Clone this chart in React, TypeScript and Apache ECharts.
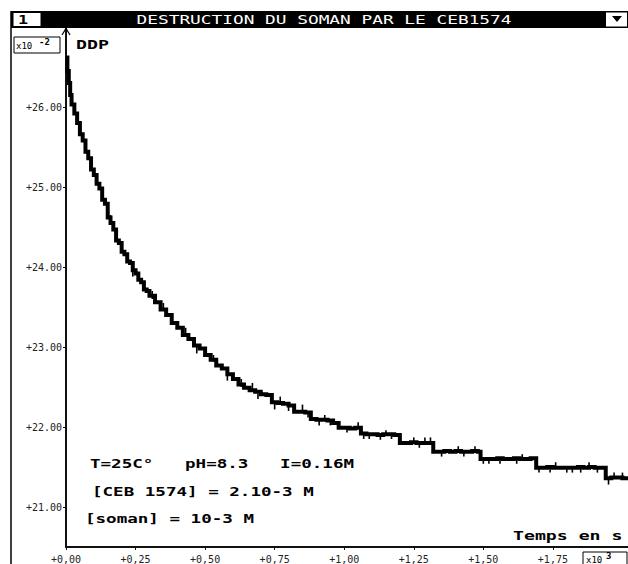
import React, { useEffect, useRef } from "react";
import * as echarts from "echarts";

const chartTitle = "DESTRUCTION DU SOMAN PAR LE CEB1574";
const windowNumber = "1";
const yAxisName = "DDP";
const xAxisName = "Temps en s";
const annotationLines = ["T=25C°   pH=8.3   I=0.16M", "[CEB 1574] = 2.10-3 M", "[soman] = 10-3 M"];
const yTickValues = [21, 22, 23, 24, 25, 26];
const xTickValues = [0, 0.25, 0.5, 0.75, 1.0, 1.25, 1.5, 1.75];

// temps (x10^3 s)
const times = [
  0, 0.005, 0.01, 0.015, 0.02, 0.03, 0.04, 0.05, 0.06, 0.07, 0.08, 0.09, 0.1, 0.11, 0.12, 0.13, 0.14, 0.15,
  0.16, 0.17, 0.18, 0.19, 0.2, 0.21, 0.22, 0.23, 0.24, 0.25, 0.26, 0.27, 0.28, 0.29, 0.3,
  0.32, 0.34, 0.36, 0.38, 0.4, 0.42, 0.44, 0.46, 0.48, 0.5, 0.52, 0.54, 0.56, 0.58, 0.6,
  0.62, 0.64, 0.66, 0.68, 0.7, 0.72, 0.74, 0.76, 0.78, 0.8, 0.82, 0.84, 0.86,
  0.88, 0.9, 0.92, 0.94, 0.96, 0.98, 1.0, 1.02, 1.04, 1.06, 1.08, 1.1, 1.12, 1.14, 1.16, 1.18,
  1.2, 1.22, 1.24, 1.26, 1.28, 1.3, 1.32, 1.34, 1.36, 1.38, 1.4, 1.42, 1.44, 1.46, 1.48,
  1.49, 1.51, 1.53, 1.55, 1.57, 1.59, 1.61, 1.63, 1.65, 1.67,
  1.69, 1.71, 1.73, 1.75, 1.77, 1.79, 1.81, 1.84, 1.86, 1.88, 1.9, 1.92,
  1.94, 1.96, 1.98, 2.0, 2.02,
];

// DDP (x10^-2)
const ddp = [
  26.62, 26.45, 26.3, 26.15, 26.03, 25.92, 25.8, 25.66, 25.58, 25.44, 25.36, 25.22, 25.15, 25.04, 24.98, 24.84, 24.79, 24.62,
  24.55, 24.47, 24.33, 24.3, 24.19, 24.16, 24.07, 24.05, 23.96, 23.92, 23.84, 23.81, 23.72, 23.7, 23.64,
  23.56, 23.47, 23.4, 23.3, 23.24, 23.15, 23.1, 23.02, 22.98, 22.9, 22.84, 22.77, 22.73, 22.66, 22.6,
  22.53, 22.49, 22.46, 22.44, 22.41, 22.4, 22.31, 22.3, 22.29, 22.27, 22.19, 22.19, 22.18,
  22.1, 22.09, 22.09, 22.08, 22.05, 21.99, 21.99, 21.98, 21.99, 21.92, 21.91, 21.91, 21.9, 21.91, 21.91, 21.9,
  21.8, 21.8, 21.81, 21.8, 21.8, 21.8, 21.69, 21.69, 21.7, 21.69, 21.7, 21.69, 21.69, 21.7, 21.69,
  21.6, 21.6, 21.6, 21.61, 21.6, 21.6, 21.61, 21.6, 21.6, 21.61,
  21.49, 21.49, 21.5, 21.49, 21.49, 21.49, 21.49, 21.5, 21.49, 21.5, 21.49, 21.49,
  21.36, 21.37, 21.37, 21.36, 21.36,
];

// noise spikes: time, level of the trace, tip of the spike
const spikeTimes = [
  0.09, 0.16, 0.24, 0.31, 0.35, 0.43, 0.47, 0.53, 0.58, 0.63, 0.67, 0.69, 0.75, 0.77, 0.8, 0.85, 0.87, 0.91, 0.93,
  0.95, 1.01, 1.05, 1.07, 1.09, 1.13, 1.15, 1.17, 1.25, 1.27, 1.29, 1.31, 1.35, 1.41, 1.43, 1.47, 1.5, 1.52, 1.56,
  1.62, 1.64, 1.7, 1.74, 1.76, 1.8, 1.82, 1.85, 1.88, 1.91, 1.95, 1.97, 2.0,
];
const spikeBase = [
  25.22, 24.55, 23.96, 23.6, 23.45, 23.15, 23.0, 22.82, 22.66, 22.5, 22.45, 22.42, 22.3, 22.3, 22.27, 22.19, 22.18, 22.09, 22.09,
  22.08, 21.99, 21.99, 21.91, 21.91, 21.91, 21.91, 21.91, 21.8, 21.8, 21.8, 21.8, 21.69, 21.69, 21.69, 21.69, 21.6, 21.6, 21.6,
  21.6, 21.6, 21.49, 21.49, 21.49, 21.49, 21.49, 21.49, 21.49, 21.49, 21.36, 21.36, 21.36,
];
const spikeTip = [
  25.32, 24.65, 23.88, 23.7, 23.55, 23.24, 22.92, 22.9, 22.58, 22.6, 22.55, 22.35, 22.22, 22.38, 22.2, 22.28, 22.12, 22.02, 22.15,
  22.02, 21.93, 22.06, 21.85, 21.85, 21.84, 21.96, 21.85, 21.87, 21.74, 21.87, 21.87, 21.63, 21.76, 21.63, 21.76, 21.54, 21.54, 21.54,
  21.54, 21.66, 21.43, 21.43, 21.56, 21.43, 21.43, 21.43, 21.56, 21.43, 21.28, 21.43, 21.43,
];

const MONO = "'DejaVu Sans Mono', 'Liberation Mono', monospace";

export default function App() {
  const ref = useRef<HTMLDivElement>(null);

  useEffect(() => {
    document.body.style.margin = "0";
    if (!ref.current) return;
    const chart = echarts.init(ref.current, null, { renderer: "svg" });
    const seriesData = times.map((t, i) => [t, ddp[i]]);
    const spikeData = spikeTimes.map((t, i) => [t, spikeBase[i], spikeTip[i]]);

    const textEl = (
      text: string,
      x: number,
      y: number,
      opts: { size?: number; weight?: string; scaleX?: number; align?: string; fill?: string } = {}
    ) => ({
      type: "text",
      x,
      y,
      scaleX: opts.scaleX ?? 1,
      z: 100,
      style: {
        text,
        fill: opts.fill ?? "#000",
        fontFamily: MONO,
        fontSize: opts.size ?? 13,
        fontWeight: opts.weight ?? "bold",
        align: opts.align ?? "left",
        verticalAlign: "middle",
      },
    });

    chart.setOption({
      animation: false,
      backgroundColor: "#fff",
      grid: {
        left: 66,
        right: 0,
        top: 27,
        bottom: 17,
        containLabel: false,
        outerBoundsMode: "none",
      },
      xAxis: {
        type: "value",
        min: 0,
        max: 2.02,
        axisLine: { show: true, onZero: false, lineStyle: { color: "#111", width: 2 } },
        axisTick: { show: true, customValues: xTickValues, length: 3, lineStyle: { color: "#111", width: 1 } },
        axisLabel: {
          customValues: xTickValues,
          formatter: (v: number) => "+" + v.toFixed(2).replace(".", ","),
          fontFamily: MONO,
          fontSize: 10,
          color: "#222",
          margin: 7,
        },
        splitLine: { show: false },
      },
      yAxis: {
        type: "value",
        min: 20.5,
        max: 27,
        axisLine: { show: true, onZero: false, lineStyle: { color: "#111", width: 2 } },
        axisTick: { show: true, customValues: yTickValues, length: 3, lineStyle: { color: "#111", width: 1 } },
        axisLabel: {
          customValues: yTickValues,
          formatter: (v: number) => "+" + v.toFixed(2),
          fontFamily: MONO,
          fontSize: 10,
          color: "#222",
          margin: 4,
        },
        splitLine: { show: false },
      },
      series: [
        {
          type: "line",
          step: "end",
          data: seriesData,
          showSymbol: false,
          lineStyle: { color: "#000", width: 4, join: "miter", cap: "butt" },
          z: 5,
        },
        {
          type: "custom",
          data: spikeData,
          z: 6,
          renderItem: (params: any, api: any) => {
            const p1 = api.coord([api.value(0), api.value(1)]);
            const p2 = api.coord([api.value(0), api.value(2)]);
            return {
              type: "line",
              shape: { x1: p1[0], y1: p1[1], x2: p2[0], y2: p2[1] },
              style: { stroke: "#000", lineWidth: 1.6 },
            };
          },
        },
      ],
      graphic: [
        // window frame
        { type: "line", z: 90, shape: { x1: 11, y1: 11, x2: 11, y2: 564 }, style: { stroke: "#000", lineWidth: 1.5 } },
        { type: "rect", z: 90, shape: { x: 11, y: 11, width: 617, height: 17 }, style: { fill: "#000" } },
        { type: "rect", z: 95, shape: { x: 13, y: 12.5, width: 28, height: 14 }, style: { fill: "#fff", stroke: "#000", lineWidth: 1 } },
        textEl(windowNumber, 23, 20, { size: 13, scaleX: 1.3, align: "center" }),
        textEl(chartTitle, 324, 20, { size: 13, weight: "normal", scaleX: 1.37, align: "center", fill: "#fff" }),
        { type: "rect", z: 95, shape: { x: 606, y: 12.5, width: 21, height: 14 }, style: { fill: "#fff" } },
        { type: "polygon", z: 96, shape: { points: [[612, 16], [622, 16], [617, 22]] }, style: { fill: "#000" } },
        // y axis arrow
        { type: "polyline", z: 96, shape: { points: [[62, 35], [66, 28.5], [70, 35]] }, style: { stroke: "#000", lineWidth: 1.2, fill: "none" } },
        // x10^-2 box
        { type: "rect", z: 95, shape: { x: 14, y: 37, width: 46, height: 16 }, style: { fill: "#fff", stroke: "#000", lineWidth: 1 } },
        textEl("x10", 16, 46, { size: 9, weight: "normal" }),
        textEl("-2", 39, 42, { size: 9, weight: "bold" }),
        textEl(yAxisName, 76, 44, { size: 13, scaleX: 1.4 }),
        // annotations
        textEl(annotationLines[0], 90, 463.5, { size: 13, scaleX: 1.35 }),
        textEl(annotationLines[1], 92, 491.5, { size: 13, scaleX: 1.35 }),
        textEl(annotationLines[2], 85, 518.5, { size: 13, scaleX: 1.35 }),
        textEl(xAxisName, 513, 535, { size: 13, scaleX: 1.4 }),
        // x10^3 box
        { type: "rect", z: 95, shape: { x: 583, y: 552, width: 44, height: 14 }, style: { fill: "#fff", stroke: "#000", lineWidth: 1 } },
        textEl("x10", 586, 560, { size: 9, weight: "normal" }),
        textEl("3", 606, 555.5, { size: 9, weight: "bold" }),
      ],
    });
    return () => chart.dispose();
  }, []);

  return <div ref={ref} style={{ width: 628, height: 564 }} />;
}
